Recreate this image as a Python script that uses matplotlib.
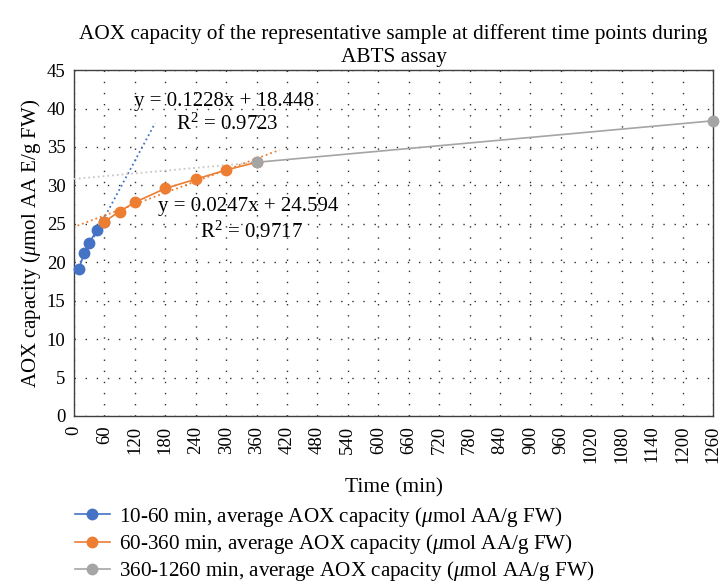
#Plotting script for AOX capacity over time (ABTS assay)

import numpy as np
import matplotlib.pyplot as plt

plt.rcParams['font.family'] = ['Liberation Serif', 'DejaVu Serif']
plt.rcParams['mathtext.fontset'] = 'custom'
plt.rcParams['mathtext.it'] = 'Liberation Serif:italic'
plt.rcParams['mathtext.rm'] = 'Liberation Serif'

# data
Time1 = [10, 20, 30, 45, 60]
AOX1 = [19.15, 21.2, 22.5, 24.2, 25.3]

Time2 = [60, 90, 120, 180, 240, 300, 360]
AOX2 = [25.3, 26.6, 27.8, 29.6, 30.8, 32.0, 33.0]

Time3 = [360, 1260]
AOX3 = [33.0, 38.4]

# trendline equations as printed on the chart
Slope1 = 0.1228
Inter1 = 18.448
Slope2 = 0.0247
Inter2 = 24.594

XTicks = list(range(0, 1261, 60))
YTicks = list(range(0, 46, 5))

blue = '#4472C4'
orange = '#ED7D31'
gray = '#A5A5A5'

fig = plt.figure(figsize=(7.21, 5.84), dpi=100)
ax = fig.add_axes([0.1026, 0.2877, 0.8864, 0.5923])

mu = r'$\mathit{\mu}$'
ax.plot(Time1, AOX1, '-o', color=blue, lw=1.2, ms=7.5, clip_on=False, zorder=4,
        label='10-60 min, average AOX capacity (' + mu + 'mol AA/g FW)')
ax.plot(Time2, AOX2, '-o', color=orange, lw=1.2, ms=7.5, clip_on=False, zorder=4,
        label='60-360 min, average AOX capacity (' + mu + 'mol AA/g FW)')
ax.plot(Time3, AOX3, '-o', color=gray, lw=1.2, ms=7.5, clip_on=False, zorder=4,
        label='360-1260 min, average AOX capacity (' + mu + 'mol AA/g FW)')

# trendlines
tx1 = np.array([8, 160])
ax.plot(tx1, Slope1*tx1 + Inter1, ':', color=blue, lw=1.3, zorder=3)
tx2 = np.array([7, 405])
ax.plot(tx2, Slope2*tx2 + Inter2, ':', color=orange, lw=1.3, zorder=3)
fit3 = np.polyfit(Time3, AOX3, 1)
tx3 = np.array([0, 360])
ax.plot(tx3, fit3[0]*tx3 + fit3[1], ':', color='#C8C8C8', lw=1.3, zorder=3)

ax.text(296, 40.85, 'y = 0.1228x + 18.448', fontsize=15, ha='center', va='center')
ax.text(302, 38.0, 'R$^2$ = 0.9723', fontsize=15, ha='center', va='center')
ax.text(344, 27.2, 'y = 0.0247x + 24.594', fontsize=15, ha='center', va='center')
ax.text(349, 23.9, 'R$^2$ = 0.9717', fontsize=15, ha='center', va='center')

ax.set_xlim(0, 1260)
ax.set_ylim(0, 45)
ax.set_xticks(XTicks)
ax.set_yticks(YTicks)
ax.tick_params(axis='x', labelrotation=90, labelsize=13.5, length=0, pad=7)
ax.tick_params(axis='y', labelsize=13.5, length=0, pad=6)
ax.grid(True, linestyle=(0, (1, 7)), color='#303030', lw=1.0)
for s in ax.spines.values():
    s.set_color('#404040')
    s.set_linewidth(1.0)

ax.set_xlabel('Time (min)', fontsize=15.5, labelpad=11)
ax.set_ylabel('AOX capacity (' + mu + 'mol AA E/g FW)', fontsize=15, labelpad=3)
ax.set_title('AOX capacity of the representative sample at different time points during\nABTS assay',
             fontsize=15.3, pad=6, linespacing=1.25)

fig.legend(loc='upper left', bbox_to_anchor=(0.104, 0.136), frameon=False, fontsize=15.2,
           handlelength=1.65, labelspacing=0.16, handletextpad=0.45, borderaxespad=0.0,
           borderpad=0.0)

plt.savefig('out.png', dpi=100)
plt.close()
